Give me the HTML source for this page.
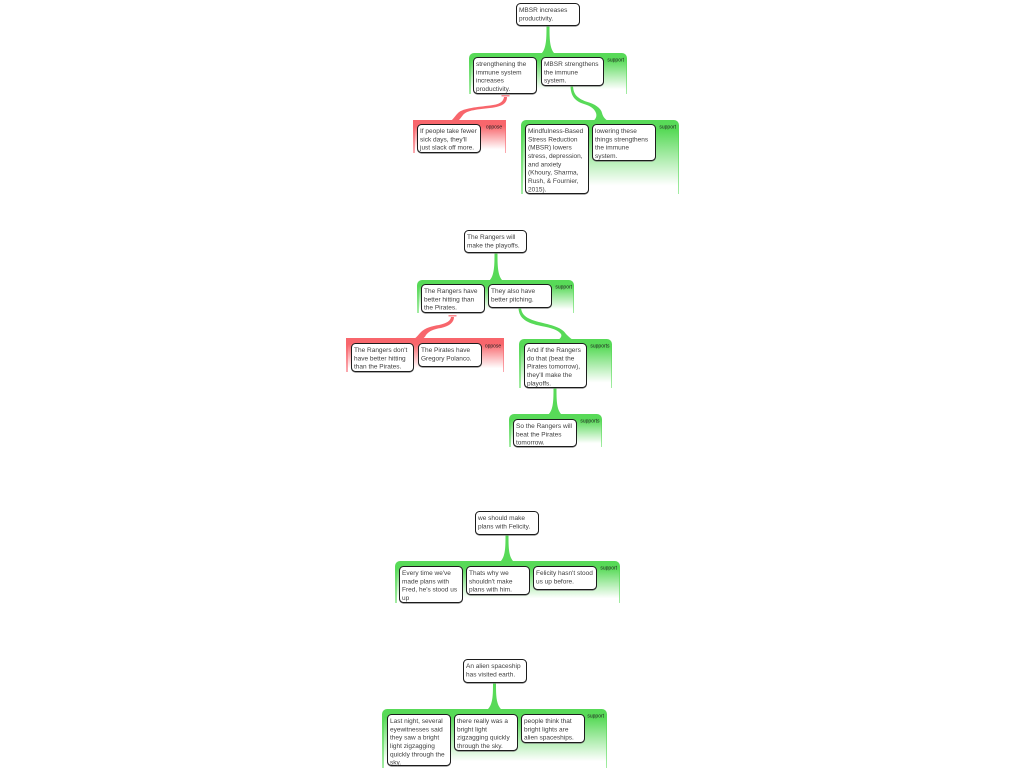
<!DOCTYPE html>
<html><head><meta charset="utf-8"><style>
html,body{margin:0;padding:0;background:#fff;width:1024px;height:768px;overflow:hidden}
#w{position:relative;width:1024px;height:768px;overflow:hidden;font-family:"Liberation Sans",sans-serif;filter:blur(.3px)}
.b{position:absolute;box-sizing:border-box;background:#fff;border:1px solid #1c1c1c;border-radius:4.5px;box-shadow:0 .6px 0 #777;color:#404040;white-space:nowrap}
.b span{position:absolute;left:2.2px;top:2.3px;display:block;font-size:19.5px;line-height:25px;transform:scale(.33333);transform-origin:0 0}
.c{position:absolute;box-sizing:border-box;border-radius:5px 5px 0 0}
.c i{position:absolute;left:1.5px;right:1.5px;top:3px;bottom:0;display:block}
.g{background:linear-gradient(#58da58 0,#58da58 20%,#a4eca4 100%)}
.g i{background:linear-gradient(#58da58 0,#58da58 10%,#fff 88%)}
.r{background:linear-gradient(#f8666c 0,#f8666c 20%,#fbaab0 100%);border-radius:0}
.r i{background:linear-gradient(#f8666c 0,#f8666c 10%,#fff 88%)}
.l{position:absolute;font-size:15px;line-height:18px;color:#222;white-space:nowrap;transform:scale(.33333);transform-origin:100% 0}
svg{position:absolute;left:0;top:0}
</style></head><body><div id="w">

<div class="c g" style="left:469px;top:53px;width:158px;height:41px"><i></i></div>
<div class="c r" style="left:413px;top:120px;width:93px;height:33px"><i></i></div>
<div class="c g" style="left:521px;top:120px;width:158px;height:74px"><i></i></div>
<div class="c g" style="left:417px;top:280px;width:157px;height:33px"><i></i></div>
<div class="c r" style="left:346px;top:338px;width:158px;height:34px"><i></i></div>
<div class="c g" style="left:519px;top:339px;width:93px;height:49px"><i></i></div>
<div class="c g" style="left:509px;top:414px;width:93px;height:33px"><i></i></div>
<div class="c g" style="left:395px;top:561px;width:225px;height:42px"><i></i></div>
<div class="c g" style="left:382px;top:709px;width:225px;height:59px"><i></i></div>

<svg width="1024" height="768" viewBox="0 0 1024 768">
<g fill="#58da58">
<path d="M546.500,26 L549.500,26 C549.500,38 549.500,49 555,54 L541,54 C546.500,49 546.500,38 546.500,26Z"/>
<path d="M494.500,253 L497.500,253 C497.500,265 497.500,276 503,281 L489,281 C494.500,276 494.500,265 494.500,253Z"/>
<path d="M553.500,388 L556.500,388 C556.500,400 556.500,410 562,415 L548,415 C553.500,410 553.500,400 553.500,388Z"/>
<path d="M505.500,535 L508.500,535 C508.500,547 508.500,557 514,562 L500,562 C505.500,557 505.500,547 505.500,535Z"/>
<path d="M493,683 L496,683 C496,695 496,705 502,710 L487,710 C493,705 493,695 493,683Z"/>
<path d="M570.500,85 L573,85 C573,94 577,98 586,101.500 C595,104 601,108 602,113 C603,117 605,119 608,121 L593,121 C596,119 597,116 596,113 C594,108 590,106 584,104 C574,101 570.500,95 570.500,85Z"/>
<path d="M518.500,308 L521,308 C522,317 530,320 543,323 C556,326 563,329 566,334 C568,336 570,338 573,340 L558,340 C561,338 562,336 561,334 C558,330 552,328 541,326 C527,323 519,319 518.500,308Z"/>
</g>
<g fill="#f8666c">
<path d="M504,97 L507,97 C507,103 503,106.500 490,108 C478,109.500 467,110 463,115 C461,117.500 460,119 458,121 L451,121 C454,118 456,115 458,113 C463,108 478,107 490,105.500 C499,104.500 503.500,102 504,97Z"/>
<rect x="501.500" y="95" width="8" height="1.500" fill="#f98a8f"/>
<path d="M451,317 L454,317 C454,322 450,326 441,328 C434,329 429,331 426,335 C425,337 424,338 422,339 L414,339 C417,337 419,334 421,332 C425,328 432,326 439,325 C447,323 450.500,321 451,317Z"/>
<rect x="448.500" y="315" width="8" height="1.500" fill="#f98a8f"/>
</g>
</svg>

<div class="b" style="left:516px;top:3px;width:64px;height:23px"><span>MBSR increases<br>productivity.</span></div>
<div class="b" style="left:473px;top:57px;width:64px;height:37px"><span>strengthening the<br>immune system<br>increases<br>productivity.</span></div>
<div class="b" style="left:541px;top:57px;width:63px;height:29px"><span>MBSR strengthens<br>the immune<br>system.</span></div>
<div class="b" style="left:417px;top:124px;width:64px;height:29px"><span>If people take fewer<br>sick days, they'll<br>just slack off more.</span></div>
<div class="b" style="left:525px;top:124px;width:64px;height:70px"><span>Mindfulness-Based<br>Stress Reduction<br>(MBSR) lowers<br>stress, depression,<br>and anxiety<br>(Khoury, Sharma,<br>Rush, &amp; Fournier,<br>2015).</span></div>
<div class="b" style="left:592px;top:124px;width:64px;height:37px"><span>lowering these<br>things strengthens<br>the immune<br>system.</span></div>

<div class="b" style="left:464px;top:230px;width:63px;height:23px"><span>The Rangers will<br>make the playoffs.</span></div>
<div class="b" style="left:421px;top:284px;width:64px;height:29px"><span>The Rangers have<br>better hitting than<br>the Pirates.</span></div>
<div class="b" style="left:488px;top:284px;width:64px;height:24px"><span>They also have<br>better pitching.</span></div>
<div class="b" style="left:351px;top:343px;width:63px;height:29px"><span>The Rangers don't<br>have better hitting<br>than the Pirates.</span></div>
<div class="b" style="left:418px;top:343px;width:64px;height:24px"><span>The Pirates have<br>Gregory Polanco.</span></div>
<div class="b" style="left:524px;top:343px;width:63px;height:45px"><span>And if the Rangers<br>do that (beat the<br>Pirates tomorrow),<br>they'll make the<br>playoffs.</span></div>
<div class="b" style="left:513px;top:419px;width:64px;height:28px"><span>So the Rangers will<br>beat the Pirates<br>tomorrow.</span></div>

<div class="b" style="left:475px;top:511px;width:64px;height:24px"><span>we should make<br>plans with Felicity.</span></div>
<div class="b" style="left:399px;top:566px;width:64px;height:37px"><span>Every time we've<br>made plans with<br>Fred, he's stood us<br>up</span></div>
<div class="b" style="left:466px;top:566px;width:64px;height:29px"><span>Thats why we<br>shouldn't make<br>plans with him.</span></div>
<div class="b" style="left:533px;top:566px;width:64px;height:24px"><span>Felicity hasn't stood<br>us up before.</span></div>

<div class="b" style="left:463px;top:659px;width:64px;height:24px"><span>An alien spaceship<br>has visited earth.</span></div>
<div class="b" style="left:387px;top:714px;width:64px;height:52px"><span>Last night, several<br>eyewitnesses said<br>they saw a bright<br>light zigzagging<br>quickly through the<br>sky.</span></div>
<div class="b" style="left:454px;top:714px;width:64px;height:37px"><span>there really was a<br>bright light<br>zigzagging quickly<br>through the sky.</span></div>
<div class="b" style="left:521px;top:714px;width:64px;height:29px"><span>people think that<br>bright lights are<br>alien spaceships.</span></div>

<div class="l" style="right:400px;top:57px">support</div>
<div class="l" style="right:522px;top:124px">oppose</div>
<div class="l" style="right:348px;top:124px">support</div>
<div class="l" style="right:452px;top:284px">support</div>
<div class="l" style="right:523px;top:343px">oppose</div>
<div class="l" style="right:414px;top:343px">supports</div>
<div class="l" style="right:424px;top:418px">supports</div>
<div class="l" style="right:407px;top:565px">support</div>
<div class="l" style="right:420px;top:713px">support</div>

</div></body></html>
